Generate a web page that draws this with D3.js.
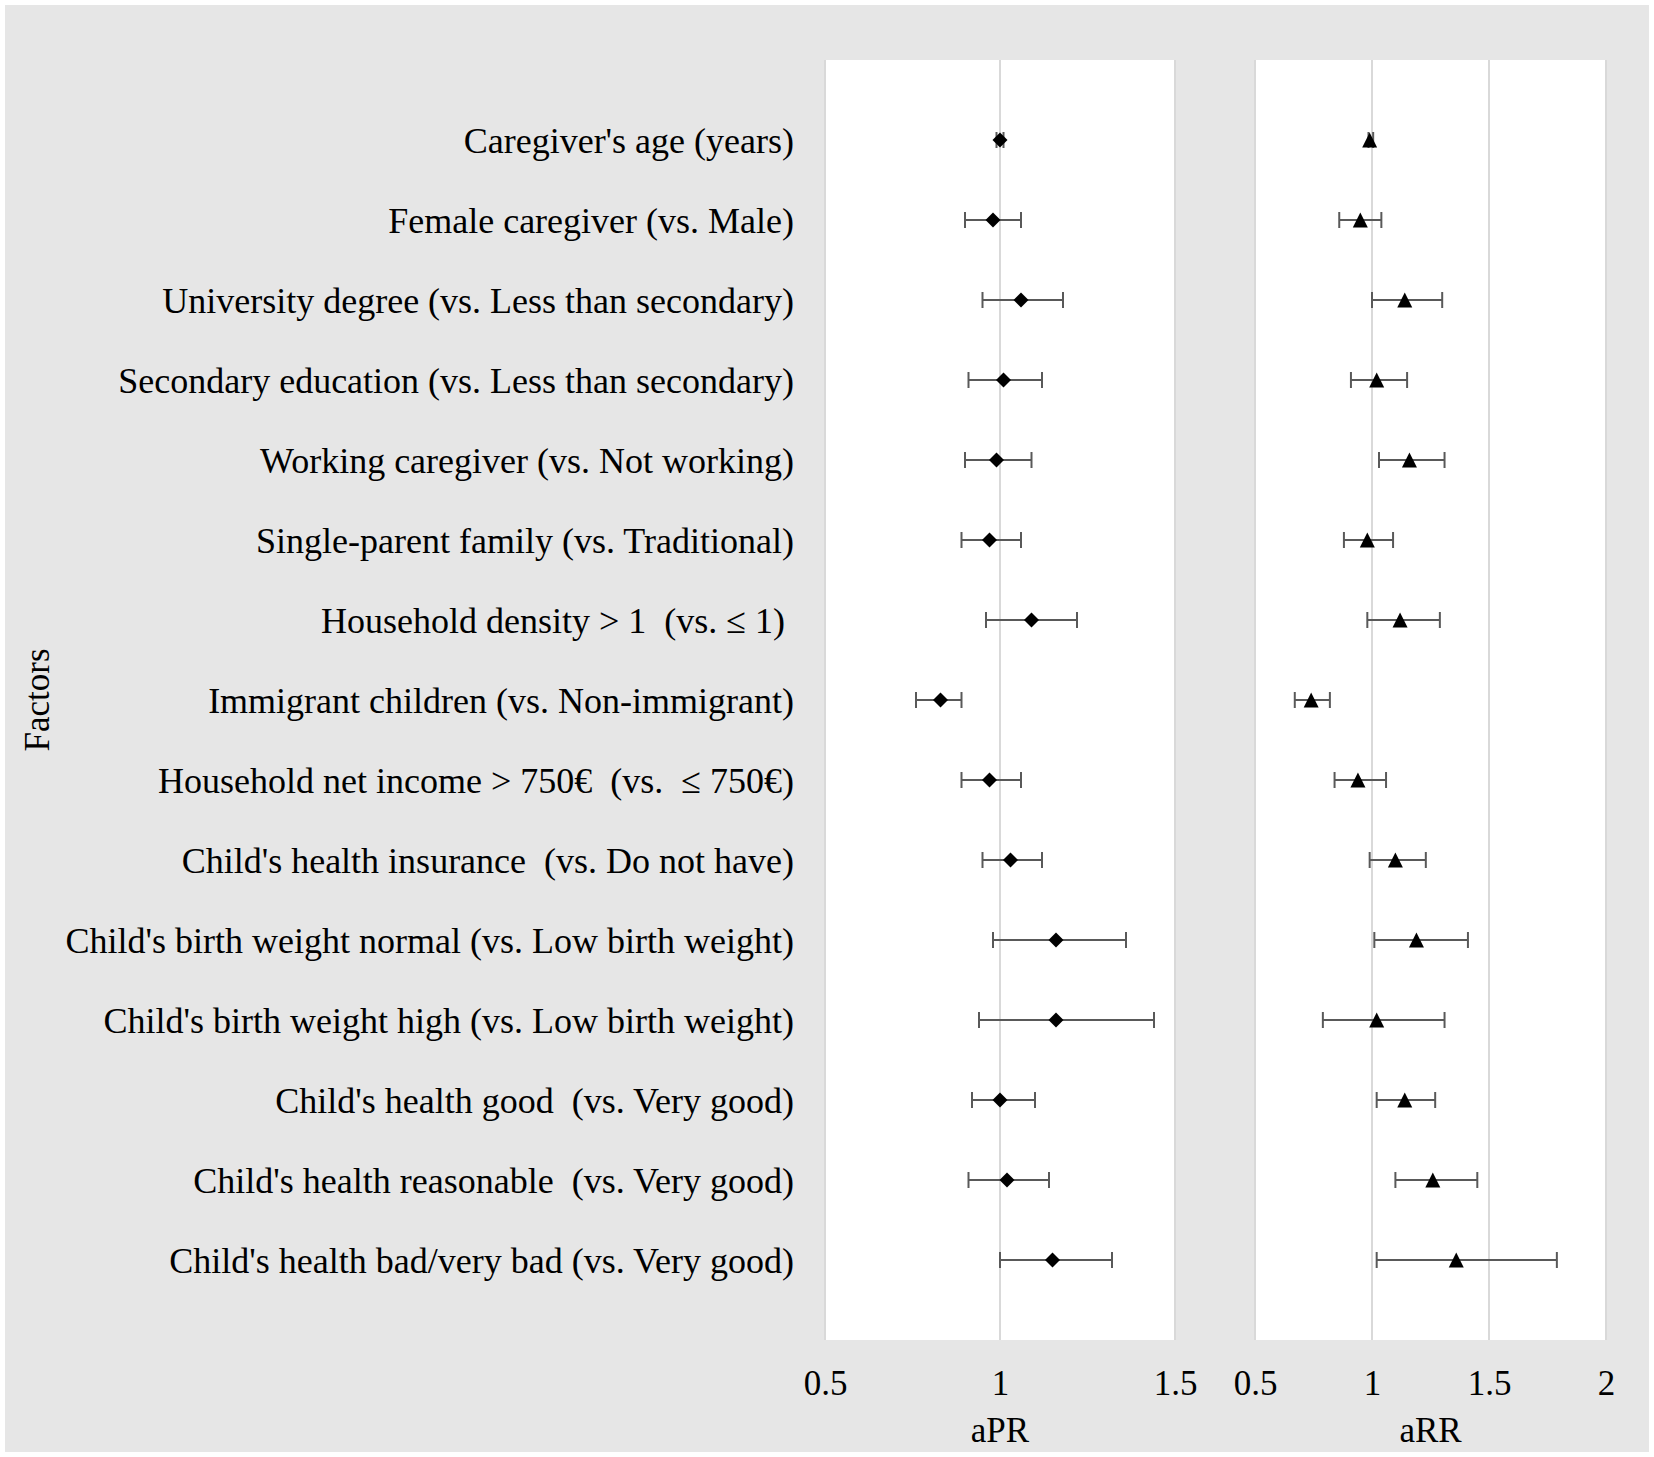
<!DOCTYPE html>
<html>
<head>
<meta charset="utf-8">
<script src="https://cdn.jsdelivr.net/npm/d3@7"></script>
<style>
    body { margin: 0; background: #fff; }
    svg { display: block; }
</style>
</head>
<body>
<svg id="chart"></svg>
<script>
// factor labels, top to bottom
const factors = [
    "Caregiver's age (years)",
    'Female caregiver (vs. Male)',
    'University degree (vs. Less than secondary)',
    'Secondary education (vs. Less than secondary)',
    'Working caregiver (vs. Not working)',
    'Single-parent family (vs. Traditional)',
    'Household density > 1  (vs. \u2264 1) ',
    'Immigrant children (vs. Non-immigrant)',
    'Household net income > 750\u20ac  (vs.  \u2264 750\u20ac)',
    "Child's health insurance  (vs. Do not have)",
    "Child's birth weight normal (vs. Low birth weight)",
    "Child's birth weight high (vs. Low birth weight)",
    "Child's health good  (vs. Very good)",
    "Child's health reasonable  (vs. Very good)",
    "Child's health bad/very bad (vs. Very good)",
];

// adjusted prevalence ratio + 95% CI
const aprEst = [1.0, 0.98, 1.06, 1.01, 0.99, 0.97, 1.09, 0.83, 0.97, 1.03, 1.16, 1.16, 1.0, 1.02, 1.15];
const aprLow = [0.99, 0.9, 0.95, 0.91, 0.9, 0.89, 0.96, 0.76, 0.89, 0.95, 0.98, 0.94, 0.92, 0.91, 1.0];
const aprHigh = [1.01, 1.06, 1.18, 1.12, 1.09, 1.06, 1.22, 0.89, 1.06, 1.12, 1.36, 1.44, 1.1, 1.14, 1.32];

// adjusted risk ratio + 95% CI
const arrEst = [0.99, 0.95, 1.14, 1.02, 1.16, 0.98, 1.12, 0.74, 0.94, 1.1, 1.19, 1.02, 1.14, 1.26, 1.36];
const arrLow = [0.985, 0.86, 1.0, 0.91, 1.03, 0.88, 0.98, 0.67, 0.84, 0.99, 1.01, 0.79, 1.02, 1.1, 1.02];
const arrHigh = [1.005, 1.04, 1.3, 1.15, 1.31, 1.09, 1.29, 0.82, 1.06, 1.23, 1.41, 1.31, 1.27, 1.45, 1.79];

const aprTicks = [0.5, 1, 1.5];
const arrTicks = [0.5, 1, 1.5, 2];

const W = 1654;
const H = 1457;
const FONT = "'Liberation Serif', 'Times New Roman', serif";

// hand-made marker shapes (square diamond, triangle) for d3.symbol
const diamond = {
    draw(ctx, size) {
        const r = Math.sqrt(size) / 2;
        ctx.moveTo(0, -r);
        ctx.lineTo(r, 0);
        ctx.lineTo(0, r);
        ctx.lineTo(-r, 0);
        ctx.closePath();
    },
};
const triangle = {
    draw(ctx, size) {
        const r = Math.sqrt(size) / 2;
        ctx.moveTo(0, -r);
        ctx.lineTo(r, r);
        ctx.lineTo(-r, r);
        ctx.closePath();
    },
};

function renderChart() {
    const svg = d3.select('#chart').attr('width', W).attr('height', H);

    svg.append('rect')
        .attr('x', 5)
        .attr('y', 5)
        .attr('width', W - 10)
        .attr('height', H - 10)
        .attr('fill', '#e6e6e6');

    const y = d3.scaleLinear().domain([0, factors.length + 1]).range([60, 1340]);

    // category labels
    svg.append('g')
        .selectAll('text')
        .data(factors)
        .enter()
        .append('text')
        .attr('x', 794)
        .attr('y', (d, i) => y(i + 1))
        .attr('dy', '0.35em')
        .attr('text-anchor', 'end')
        .style('white-space', 'pre')
        .style('font', `36px ${FONT}`)
        .attr('fill', '#000')
        .text((d) => d);

    svg.append('text')
        .attr('transform', 'translate(37,700) rotate(-90)')
        .attr('text-anchor', 'middle')
        .attr('dy', '0.35em')
        .style('font', `35px ${FONT}`)
        .text('Factors');

    drawPanel(svg, y, {
        range: [825, 1175],
        ticks: aprTicks,
        est: aprEst,
        low: aprLow,
        high: aprHigh,
        shape: diamond,
        title: 'aPR',
    });
    drawPanel(svg, y, {
        range: [1255, 1606],
        ticks: arrTicks,
        est: arrEst,
        low: arrLow,
        high: arrHigh,
        shape: triangle,
        title: 'aRR',
    });
}

function drawPanel(svg, y, p) {
    const x = d3
        .scaleLinear()
        .domain([p.ticks[0], p.ticks[p.ticks.length - 1]])
        .range(p.range);
    const top = y.range()[0];
    const bottom = y.range()[1];

    svg.append('rect')
        .attr('x', p.range[0])
        .attr('y', top)
        .attr('width', p.range[1] - p.range[0])
        .attr('height', bottom - top)
        .attr('fill', '#fff');

    // vertical gridlines
    svg.append('g')
        .selectAll('line')
        .data(p.ticks)
        .enter()
        .append('line')
        .attr('x1', (d) => x(d))
        .attr('x2', (d) => x(d))
        .attr('y1', top)
        .attr('y2', bottom)
        .attr('stroke', '#d9d9d9')
        .attr('stroke-width', 2);

    // tick labels
    const axis = svg
        .append('g')
        .attr('transform', 'translate(0,1383)')
        .call(d3.axisBottom(x).tickValues(p.ticks).tickSize(0).tickFormat(d3.format('')));
    axis.select('.domain').remove();
    axis.selectAll('text')
        .attr('y', 0)
        .attr('dy', '0.35em')
        .attr('fill', '#000')
        .style('font', `35px ${FONT}`);

    svg.append('text')
        .attr('x', (p.range[0] + p.range[1]) / 2)
        .attr('y', 1430)
        .attr('dy', '0.35em')
        .attr('text-anchor', 'middle')
        .style('font', `35px ${FONT}`)
        .text(p.title);

    const rows = p.est.map((v, i) => ({ v, lo: p.low[i], hi: p.high[i], i }));

    const bars = svg
        .append('g')
        .attr('stroke', '#595959')
        .attr('stroke-width', 2)
        .selectAll('g')
        .data(rows)
        .enter()
        .append('g')
        .attr('transform', (d) => `translate(0,${y(d.i + 1)})`);

    bars.append('line')
        .attr('x1', (d) => x(d.lo))
        .attr('x2', (d) => x(d.hi));
    bars.append('line')
        .attr('x1', (d) => x(d.lo))
        .attr('x2', (d) => x(d.lo))
        .attr('y1', -8)
        .attr('y2', 8);
    bars.append('line')
        .attr('x1', (d) => x(d.hi))
        .attr('x2', (d) => x(d.hi))
        .attr('y1', -8)
        .attr('y2', 8);

    svg.append('g')
        .selectAll('path')
        .data(rows)
        .enter()
        .append('path')
        .attr('d', d3.symbol().type(p.shape).size(15 * 15))
        .attr('transform', (d) => `translate(${x(d.v)},${y(d.i + 1)})`)
        .attr('fill', '#000');
}

renderChart();
</script>
</body>
</html>
